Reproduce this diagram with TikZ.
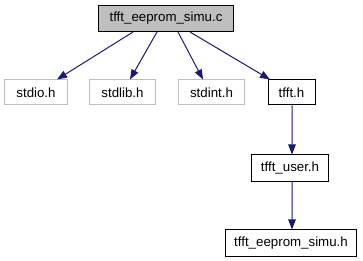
\documentclass[tikz,border=0pt]{standalone}
\usepackage{fontspec}
\setmainfont{Liberation Sans}
\usetikzlibrary{arrows.meta}
\definecolor{edgeblue}{HTML}{191970}
\definecolor{sysgray}{HTML}{BFBFBF}
\tikzset{
  file/.style={draw=black, line width=1bp, fill=white, inner sep=0pt,
    minimum height=26bp, font=\fontsize{13.3bp}{16bp}\selectfont},
  sysfile/.style={file, draw=sysgray},
  rootfile/.style={file, fill=sysgray},
  dep/.style={draw=edgeblue, line width=1bp,
    -{Triangle[length=10bp, width=7.5bp]}, color=edgeblue},
}
\begin{document}
\begin{tikzpicture}[x=1bp, y=1bp]
  \useasboundingbox (0,0) rectangle (363,261);
  % include graph nodes
  \node[rootfile, minimum width=134bp] (root) at (166,242.5) {tfft\_eeprom\_simu.c};
  \node[sysfile, minimum width=62bp, minimum height=25bp] (stdio) at (36,168.5) {stdio.h};
  \node[sysfile, minimum width=65bp, minimum height=25bp] (stdlib) at (122.5,168.5) {stdlib.h};
  \node[sysfile, minimum width=65bp, minimum height=25bp] (stdint) at (211.5,168.5) {stdint.h};
  \node[file, minimum width=47bp, minimum height=25bp] (tfft) at (291.5,168.5) {tfft.h};
  \node[file, minimum width=76bp] (user) at (290,93) {tfft\_user.h};
  \node[file, minimum width=130bp] (eeprom) at (291,18) {tfft\_eeprom\_simu.h};
  % include relations
  \draw[dep] ([xshift=-33bp]root.south) -- ([xshift=21bp]stdio.north);
  \draw[dep] ([xshift=-9bp]root.south) -- ([xshift=7.5bp]stdlib.north);
  \draw[dep] ([xshift=12bp]root.south) -- ([xshift=-8.5bp]stdint.north);
  \draw[dep] ([xshift=24bp]root.south) -- ([xshift=-21.5bp]tfft.north);
  \draw[dep] ([xshift=0.5bp]tfft.south) -- ([xshift=2bp]user.north);
  \draw[dep] ([xshift=2bp]user.south) -- ([xshift=1bp]eeprom.north);
\end{tikzpicture}
\end{document}
